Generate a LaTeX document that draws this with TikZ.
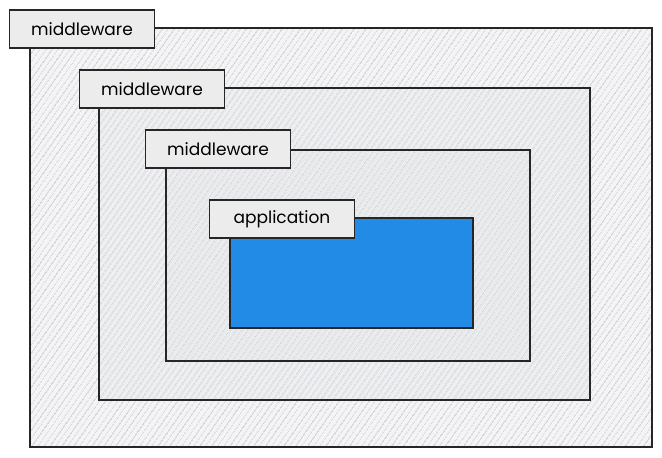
\documentclass[tikz,border=0pt]{standalone}
\usepackage{fontspec}
\setmainfont{Poppins}
\usetikzlibrary{patterns.meta,fit}

\definecolor{hatchgray}{HTML}{C3C7CC}
\definecolor{layerfill}{HTML}{EDEEF0}
\definecolor{tagfill}{HTML}{ECECEC}
\definecolor{appblue}{HTML}{228BE6}

\begin{document}
\begin{tikzpicture}[x=0.03cm,y=-0.03cm,
layerbox/.style={draw=black!85,line width=1pt,inner sep=0pt,
  preaction={fill=layerfill,fill opacity=.6},
  preaction={pattern={Lines[angle=55,distance=4pt,line width=.4pt]},pattern color=hatchgray}},
tagbox/.style={draw=black!85,line width=1.1pt,fill=tagfill,minimum width=4.35cm,minimum height=1.14cm,
  font=\fontsize{14.5}{16}\selectfont},
appbox/.style={draw=black!85,line width=1pt,inner sep=0pt,fill=appblue}]
\useasboundingbox (0,0) rectangle (662,458);
\fill[white] (0,0) rectangle (662,458);
% nested layers
\node[layerbox,fit={(30,28) (652,447)}](outer){};
\node[layerbox,fit={(99,88) (590,400)}](middle){};
\node[layerbox,fit={(166,150) (530,361)}](inner){};
\node[appbox,fit={(230,218) (473,328)}](app){};
% labels
\node[tagbox](outertag) at (82,29){middleware};
\node[tagbox](middletag) at (152,89){middleware};
\node[tagbox](innertag) at (218,149){middleware};
\node[tagbox](apptag) at (282,219){application};
\end{tikzpicture}
\end{document}
